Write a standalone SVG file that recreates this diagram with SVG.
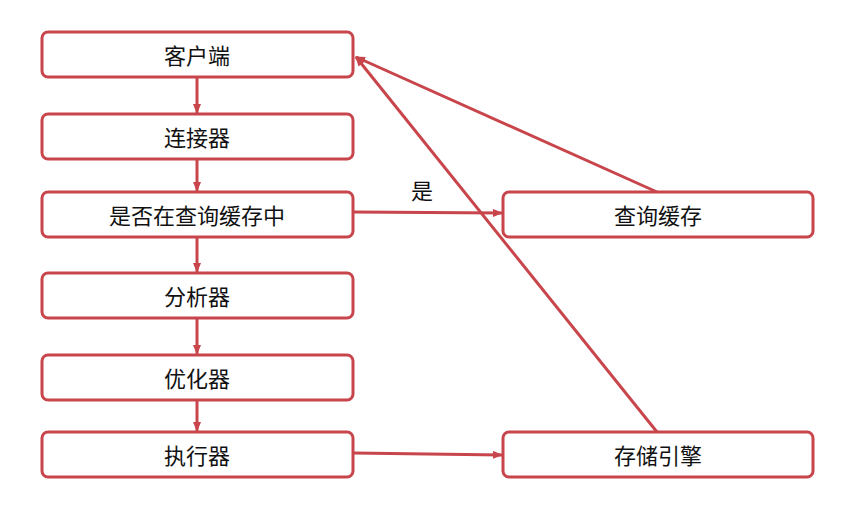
<svg xmlns="http://www.w3.org/2000/svg" width="861" height="507" viewBox="0 0 861 507">
<style>
.b{fill:#fff;stroke:#c8454c;stroke-width:3}
.t{font-family:"Noto Sans CJK SC",sans-serif;font-size:22px;fill:#111;text-anchor:middle;dominant-baseline:central}
.c{stroke:#c8454c;stroke-width:3;fill:none}
</style>
<defs>
<marker id="a" markerWidth="10" markerHeight="8" refX="9" refY="4" orient="auto" markerUnits="userSpaceOnUse"><path d="M0,0L10,4L0,8z" fill="#c8454c"/></marker>
</defs>
<g id="n1"><rect class="b" x="42" y="32" width="311" height="45" rx="6"/><text class="t" x="197" y="54">客户端</text></g>
<g id="n2"><rect class="b" x="42" y="114" width="311" height="45" rx="6"/><text class="t" x="197" y="136">连接器</text></g>
<g id="n3"><rect class="b" x="42" y="192" width="311" height="45" rx="6"/><text class="t" x="197" y="214">是否在查询缓存中</text></g>
<g id="n4"><rect class="b" x="42" y="273" width="311" height="45" rx="6"/><text class="t" x="197" y="295">分析器</text></g>
<g id="n5"><rect class="b" x="42" y="355" width="311" height="45" rx="6"/><text class="t" x="197" y="377">优化器</text></g>
<g id="n6"><rect class="b" x="42" y="432" width="311" height="45" rx="6"/><text class="t" x="197" y="454">执行器</text></g>
<g id="n7"><rect class="b" x="503" y="192" width="310" height="45" rx="6"/><text class="t" x="658" y="214">查询缓存</text></g>
<g id="n8"><rect class="b" x="503" y="432" width="310" height="45" rx="6"/><text class="t" x="658" y="454">存储引擎</text></g>
<g id="edges">
<line class="c" x1="197" y1="77" x2="197" y2="113" marker-end="url(#a)"/>
<line class="c" x1="197" y1="159" x2="197" y2="191" marker-end="url(#a)"/>
<line class="c" x1="197" y1="237" x2="197" y2="272" marker-end="url(#a)"/>
<line class="c" x1="197" y1="318" x2="197" y2="354" marker-end="url(#a)"/>
<line class="c" x1="197" y1="400" x2="197" y2="431" marker-end="url(#a)"/>
<line class="c" x1="353" y1="212" x2="502" y2="213" marker-end="url(#a)"/>
<line class="c" x1="353" y1="453" x2="502" y2="455" marker-end="url(#a)"/>
<line class="c" x1="657" y1="192" x2="356" y2="57" marker-end="url(#a)"/>
<line class="c" x1="657" y1="432" x2="356" y2="57" marker-end="url(#a)"/>
<text class="t" x="422" y="189">是</text>
</g>
</svg>
